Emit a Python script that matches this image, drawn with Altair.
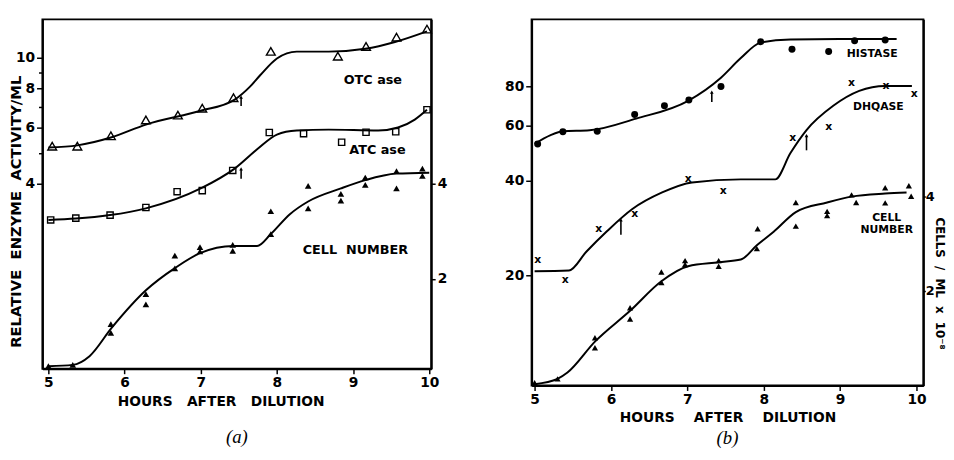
import altair as alt
import pandas as pd

SP2 = "\u00a0\u00a0"
SP3 = "\u00a0\u00a0\u00a0"
SP4 = "\u00a0\u00a0\u00a0\u00a0"

# ---------------- Panel (a) ----------------
otc_hours = [5.05, 5.38, 5.82, 6.28, 6.70, 7.02, 7.43, 7.92, 8.80, 9.17, 9.57, 9.97]
otc_vals = [5.25, 5.25, 5.66, 6.35, 6.58, 6.92, 7.47, 10.46, 10.1, 10.84, 11.6, 12.3]
otc_curve_hours = [5.0, 5.38, 5.82, 6.28, 7.0, 7.44, 7.65, 7.78, 8.0, 8.26, 8.68, 9.16, 9.55, 9.97]
otc_curve_vals = [5.2, 5.28, 5.59, 6.14, 6.79, 7.35, 8.11, 8.79, 9.93, 10.44, 10.44, 10.66, 11.2, 12.1]

atc_hours = [5.03, 5.36, 5.81, 6.28, 6.69, 7.02, 7.42, 7.90, 8.35, 8.85, 9.17, 9.56, 9.97]
atc_vals = [3.07, 3.11, 3.18, 3.36, 3.77, 3.80, 4.40, 5.80, 5.75, 5.40, 5.81, 5.83, 6.84]
atc_curve_hours = [5.0, 5.36, 5.81, 6.28, 7.0, 7.44, 7.74, 8.0, 8.26, 8.68, 9.33, 9.59, 9.81, 9.97]
atc_curve_vals = [3.07, 3.10, 3.18, 3.34, 3.86, 4.45, 5.13, 5.71, 5.88, 5.92, 5.88, 6.01, 6.37, 6.84]

cella_hours = [5.0, 5.32, 5.82, 5.82, 6.28, 6.28, 6.66, 6.66, 6.99, 6.99, 7.42, 7.42,
               7.92, 7.92, 8.41, 8.41, 8.84, 8.84, 9.16, 9.16, 9.57, 9.57, 9.91, 9.91]
cella_vals = [1.06, 1.07, 1.44, 1.35, 1.79, 1.66, 2.37, 2.16, 2.52, 2.44, 2.56, 2.45,
              2.77, 3.27, 3.93, 3.34, 3.71, 3.53, 4.18, 3.96, 4.38, 3.86, 4.46, 4.23]
cella_curve_hours = [5.0, 5.32, 5.54, 5.83, 6.28, 6.67, 6.99, 7.43, 7.74, 7.92, 8.17, 8.41, 8.84, 9.16, 9.57, 10.0]
cella_curve_vals = [1.06, 1.07, 1.14, 1.40, 1.84, 2.17, 2.41, 2.54, 2.54, 2.77, 3.20, 3.51, 3.86, 4.10, 4.30, 4.33]

labels_a = ["OTC ase", "ATC ase", "CELL" + SP2 + "NUMBER"]
labels_a_hours = [9.26, 9.32, 9.03]
labels_a_vals = [8.48, 5.10, 2.47]

arrows_a_hours = [7.53, 7.53]
arrows_a_low = [7.03, 4.14]
arrows_a_high = [7.50, 4.45]

# ---------------- Panel (b) ----------------
his_hours = [5.04, 5.37, 5.82, 6.31, 6.70, 7.02, 7.44, 7.96, 8.37, 8.85, 9.19, 9.59]
his_vals = [52.4, 57.3, 57.5, 65.0, 69.4, 72.3, 79.8, 110.9, 105, 103.2, 111.7, 112.3]
his_curve_hours = [5.0, 5.21, 5.37, 5.72, 6.33, 7.01, 7.44, 7.70, 7.96, 8.35, 8.99, 9.74]
his_curve_vals = [52.4, 55.9, 57.5, 57.9, 63.1, 71.9, 85.2, 98.4, 110.2, 112.8, 113.1, 113.1]

dhq_hours = [5.04, 5.40, 5.84, 6.31, 7.01, 7.47, 8.38, 8.85, 9.15, 9.60, 9.97]
dhq_vals = [22.4, 19.3, 28.1, 31.4, 40.4, 37.1, 54.6, 59.4, 82.2, 80.2, 75.5]
dhq_curve_hours = [5.0, 5.45, 5.68, 5.94, 6.28, 6.67, 7.06, 7.70, 8.15, 8.35, 8.56, 8.91, 9.25, 9.59, 9.94]
dhq_curve_vals = [20.6, 20.7, 23.8, 27.5, 32.5, 36.7, 39.5, 40.4, 40.4, 49.0, 58.0, 69.3, 77.3, 80.2, 80.2]

cellb_hours = [5.0, 5.30, 5.79, 5.79, 6.25, 6.25, 6.66, 6.66, 6.97, 6.97, 7.41, 7.41,
               7.91, 7.92, 8.42, 8.42, 8.83, 8.83, 9.15, 9.21, 9.59, 9.59, 9.90, 9.93]
cellb_vals = [1.02, 1.05, 1.42, 1.32, 1.77, 1.63, 2.30, 2.13, 2.50, 2.43, 2.50, 2.40,
              2.73, 3.16, 3.83, 3.22, 3.59, 3.48, 4.05, 3.83, 4.27, 3.82, 4.33, 4.01]
cellb_curve_hours = [5.0, 5.30, 5.43, 5.79, 6.25, 6.66, 7.01, 7.41, 7.70, 7.91, 8.13, 8.42, 8.83, 9.15, 9.59, 9.87]
cellb_curve_vals = [1.01, 1.05, 1.10, 1.38, 1.73, 2.15, 2.40, 2.47, 2.52, 2.80, 3.09, 3.57, 3.83, 4.00, 4.09, 4.12]

labels_b = ["HISTASE", "DHQASE"]
labels_b_hours = [9.42, 9.50]
labels_b_vals = [101.5, 68.7]
labels_b_cell = ["CELL\nNUMBER"]
labels_b_cell_hours = [9.61]
labels_b_cell_vals = [3.41]

arrows_b_hours = [7.32, 6.13, 8.56]
arrows_b_low = [71.3, 26.9, 50.0]
arrows_b_high = [76.6, 30.0, 55.7]

x_ticks = [5, 6, 7, 8, 9, 10]
ya_ticks = [4, 5, 6, 7, 8, 9, 10]
ya_right_ticks = [2, 4]
yb_ticks = [20, 40, 60, 80]
yb_right_ticks = [2, 4]

FONT = "DejaVu Sans"


def df(h, v, t=None):
    d = pd.DataFrame({"h": h, "v": v})
    if t is not None:
        d["t"] = t
    return d


def df_arrow(h, lo, hi):
    return pd.DataFrame({"h": h, "v": lo, "v2": hi})


def arrow_layers(data, x, scale, axis):
    return [
        alt.Chart(data).mark_rule(color="black", strokeWidth=1.6).encode(
            x=x, y=alt.Y("v:Q", scale=scale, axis=axis), y2="v2:Q"),
        alt.Chart(data).mark_point(shape="triangle-up", filled=True, color="black",
                                   size=14, opacity=1).encode(
            x=x, y=alt.Y("v2:Q", scale=scale, axis=axis)),
    ]


# ---- panel (a)
xa = alt.X("h:Q", scale=alt.Scale(domain=[4.922, 10.026], nice=False, zero=False),
           axis=alt.Axis(values=x_ticks, title="HOURS" + SP3 + "AFTER" + SP3 + "DILUTION", format="d",
                         tickSize=5, labelPadding=2, titlePadding=5, titleX=181))
sa_left = alt.Scale(type="log", domain=[1.04, 13.2], nice=False)
axa_left = alt.Axis(values=ya_ticks, title="RELATIVE" + SP2 + "ENZYME" + SP2 + "ACTIVITY/ML",
                    labelExpr="datum.value % 2 == 0 ? datum.label : ''",
                    tickSize={"condition": {"test": "datum.value % 2 == 0", "value": 6}, "value": 4},
                    labelPadding=2, titleX=-27, titleY=195, titleBaseline="middle", titleFontSize=15)
ya_left = alt.Y("v:Q", scale=sa_left, axis=axa_left)
sa_right = alt.Scale(type="log", domain=[1.04, 13.2], nice=False)
axa_right = alt.Axis(values=ya_right_ticks, orient="right", title=None, tickSize=4, labelPadding=2)
ya_right = alt.Y("v:Q", scale=sa_right, axis=axa_right)

line_kw = dict(interpolate="monotone", color="black", strokeWidth=2)

a_left = alt.layer(
    alt.Chart(df(otc_curve_hours, otc_curve_vals)).mark_line(**line_kw).encode(x=xa, y=ya_left),
    alt.Chart(df(otc_hours, otc_vals)).mark_point(shape="triangle-up", filled=False, color="black",
                                                  size=80, strokeWidth=1.4, opacity=1).encode(x=xa, y=ya_left),
    alt.Chart(df(atc_curve_hours, atc_curve_vals)).mark_line(**line_kw).encode(x=xa, y=ya_left),
    alt.Chart(df(atc_hours, atc_vals)).mark_point(shape="square", filled=False, color="black",
                                                  size=40, strokeWidth=1.4, opacity=1).encode(x=xa, y=ya_left),
    alt.Chart(df(labels_a_hours, labels_a_vals, labels_a)).mark_text(
        font=FONT, fontWeight="bold", fontSize=13, color="black").encode(x=xa, y=ya_left, text="t:N"),
    *arrow_layers(df_arrow(arrows_a_hours, arrows_a_low, arrows_a_high), xa, sa_left, axa_left),
)
a_right = alt.layer(
    alt.Chart(df(cella_curve_hours, cella_curve_vals)).mark_line(**line_kw).encode(x=xa, y=ya_right),
    alt.Chart(df(cella_hours, cella_vals)).mark_point(shape="triangle-up", filled=True, color="black",
                                                      size=45, opacity=1).encode(x=xa, y=ya_right),
)
panel_a = alt.layer(a_left, a_right).resolve_scale(y="independent").properties(
    width=395, height=355,
    title=alt.TitleParams("(a)", orient="bottom", font="Liberation Serif", fontStyle="italic",
                          fontWeight="normal", fontSize=19, offset=20, color="black"))

# ---- panel (b)
xb = alt.X("h:Q", scale=alt.Scale(domain=[4.961, 10.09], nice=False, zero=False),
           axis=alt.Axis(values=x_ticks, title="HOURS" + SP4 + "AFTER" + SP4 + "DILUTION", format="d",
                         tickSize=5, labelPadding=2, titlePadding=5))
sb_left = alt.Scale(type="log", domain=[8.9, 130.7], nice=False)
axb_left = alt.Axis(values=yb_ticks, title=None, tickSize=6, labelPadding=2)
yb_left = alt.Y("v:Q", scale=sb_left, axis=axb_left)
sb_right = alt.Scale(type="log", domain=[1.0, 14.69], nice=False)
axb_right = alt.Axis(values=yb_right_ticks, orient="right",
                     title="CELLS" + SP2 + "/" + SP2 + "ML" + SP2 + "x" + SP2 + "10⁻⁸",
                     tickSize=2, labelPadding=0, labelFontSize=13, titleAngle=90, titleX=16, titleY=268,
                     titleBaseline="middle", titleFontSize=12)
yb_right = alt.Y("v:Q", scale=sb_right, axis=axb_right)

b_left = alt.layer(
    alt.Chart(df(his_curve_hours, his_curve_vals)).mark_line(**line_kw).encode(x=xb, y=yb_left),
    alt.Chart(df(his_hours, his_vals)).mark_circle(color="black", size=50, opacity=1).encode(x=xb, y=yb_left),
    alt.Chart(df(dhq_curve_hours, dhq_curve_vals)).mark_line(**line_kw).encode(x=xb, y=yb_left),
    alt.Chart(df(dhq_hours, dhq_vals)).mark_text(
        text="x", font=FONT, fontWeight="bold", fontSize=11, color="black").encode(x=xb, y=yb_left),
    alt.Chart(df(labels_b_hours, labels_b_vals, labels_b)).mark_text(
        font=FONT, fontWeight="bold", fontSize=11, color="black").encode(x=xb, y=yb_left, text="t:N"),
    *arrow_layers(df_arrow(arrows_b_hours, arrows_b_low, arrows_b_high), xb, sb_left, axb_left),
)
b_right = alt.layer(
    alt.Chart(df(cellb_curve_hours, cellb_curve_vals)).mark_line(**line_kw).encode(x=xb, y=yb_right),
    alt.Chart(df(cellb_hours, cellb_vals)).mark_point(shape="triangle-up", filled=True, color="black",
                                                      size=40, opacity=1).encode(x=xb, y=yb_right),
    alt.Chart(df(labels_b_cell_hours, labels_b_cell_vals, labels_b_cell)).mark_text(
        font=FONT, fontWeight="bold", fontSize=11, color="black", lineBreak="\n", lineHeight=12,
        baseline="middle").encode(x=xb, y=yb_right, text="t:N"),
)
panel_b = alt.layer(b_left, b_right).resolve_scale(y="independent").properties(
    width=398, height=372,
    title=alt.TitleParams("(b)", orient="bottom", font="Liberation Serif", fontStyle="italic",
                          fontWeight="normal", fontSize=19, offset=4, color="black"))

chart = alt.hconcat(panel_a, panel_b, spacing=56).properties(
    padding={"left": 0, "top": 7, "right": 0, "bottom": 0}, background="white"
).configure_view(stroke="black", strokeWidth=2).configure_axis(
    grid=False, domainColor="black", domainWidth=2, tickColor="black", tickWidth=1.5,
    labelFont=FONT, labelFontWeight="bold", labelFontSize=14, labelColor="black",
    titleFont=FONT, titleFontWeight="bold", titleFontSize=14, titleColor="black"
)

chart.save("out.html", embed_options={"renderer": "svg", "actions": False})
